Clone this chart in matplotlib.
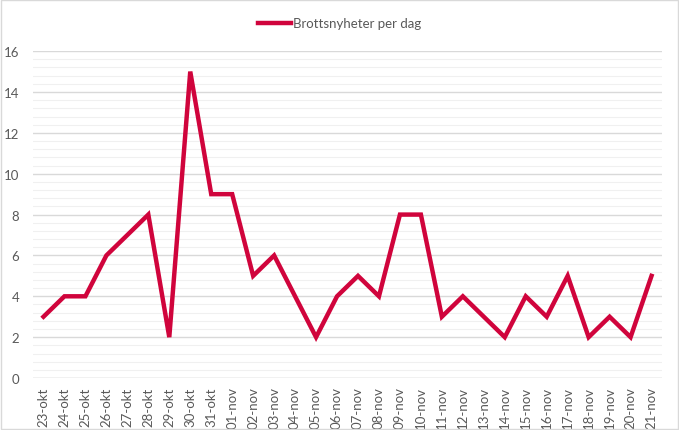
import matplotlib
matplotlib.use("Agg")
import matplotlib.pyplot as plt
import numpy as np

dates = ["23-okt", "24-okt", "25-okt", "26-okt", "27-okt", "28-okt", "29-okt", "30-okt", "31-okt",
         "01-nov", "02-nov", "03-nov", "04-nov", "05-nov", "06-nov", "07-nov", "08-nov", "09-nov",
         "10-nov", "11-nov", "12-nov", "13-nov", "14-nov", "15-nov", "16-nov", "17-nov", "18-nov",
         "19-nov", "20-nov", "21-nov"]
values = [3, 4, 4, 6, 7, 8, 2, 15, 9, 9, 5, 6, 4, 2, 4, 5, 4, 8, 8, 3, 4, 3, 2, 4, 3, 5, 2, 3, 2, 5]
series_name = "Brottsnyheter per dag"

plt.rcParams['font.family'] = ['Lato', 'DejaVu Sans']
txt = '#595959'

fig = plt.figure(figsize=(6.79, 4.31), dpi=100)
fig.patches.append(plt.Rectangle((0.002, 0.002), 0.996, 0.996, transform=fig.transFigure,
                                 fill=False, edgecolor='#d9d9d9', linewidth=1))
ax = fig.add_axes([0.0486, 0.1206, 0.9264, 0.7584])

x = np.arange(len(dates))
ax.plot(x, values, color='#D0043C', linewidth=3.2, label=series_name, solid_joinstyle='miter', zorder=3)

ax.set_xlim(-0.5, len(dates) - 0.5)
ax.set_ylim(0, 16)
ax.set_yticks(np.arange(0, 17, 2))
ax.set_yticks(np.arange(0, 16.01, 0.4), minor=True)
ax.grid(which='major', axis='y', color='#d9d9d9', linewidth=1)
ax.grid(which='minor', axis='y', color='#f0f0f0', linewidth=0.8)
ax.set_axisbelow(True)
ax.set_xticks(x)
ax.set_xticklabels(dates, rotation=90, fontsize=9.5, color=txt)
ax.tick_params(axis='y', labelsize=9.5, labelcolor=txt, length=0, pad=10)
ax.tick_params(axis='y', which='minor', length=0)
ax.tick_params(axis='x', length=0, pad=6)
for s in ax.spines.values():
    s.set_visible(False)
ax.axhline(0, color='#d9d9d9', linewidth=1, zorder=2)

leg = fig.legend(loc='upper center', bbox_to_anchor=(0.5, 0.985), frameon=False, fontsize=9.5,
                 handlelength=2.5, handletextpad=0.1)
for t in leg.get_texts():
    t.set_color(txt)

fig.savefig('out.png', dpi=100)
